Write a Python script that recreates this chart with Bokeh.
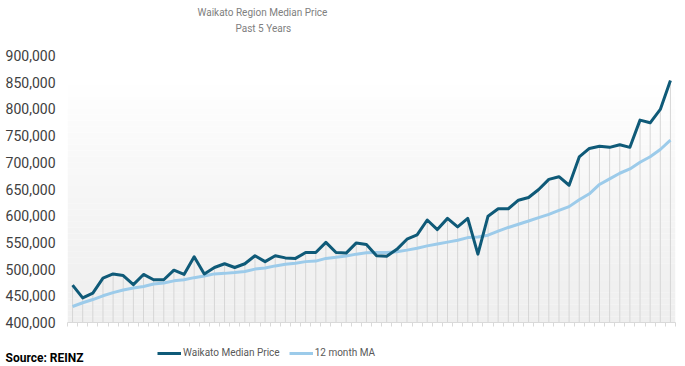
import numpy as np
from bokeh.plotting import figure
from bokeh.models import (ColumnDataSource, Legend, LegendItem, Label, FixedTicker,
                          NumeralTickFormatter, Range1d, Title)
from bokeh.embed import file_html
from bokeh.resources import INLINE

# ---- data ----
median_price = [470000, 446000, 455000, 483000, 491000, 488000, 471000, 490000, 480000, 480000,
                498000, 490000, 523000, 491000, 503000, 510000, 503000, 510000, 525000, 514000,
                525000, 521000, 520000, 531000, 531000, 550000, 531000, 530000, 549000, 546000,
                525000, 524000, 537000, 556000, 564000, 592000, 574000, 595000, 579000, 595000,
                528000, 599000, 613000, 613000, 629000, 634000, 649000, 668000, 673000, 657000,
                710000, 726000, 730000, 728000, 733000, 728000, 779000, 774000, 799000, 853000]
ma_12 = [430000, 437000, 443000, 450000, 456000, 461000, 464500, 467500, 472000, 474000,
         478000, 480000, 484000, 487000, 491000, 492000, 493500, 495500, 500000, 502000,
         506000, 509000, 511000, 514000, 515000, 520000, 522000, 524500, 528000, 530500,
         531000, 531000, 532500, 535500, 539000, 543500, 547000, 550500, 554000, 559000,
         560000, 563500, 571000, 578000, 584000, 590000, 596500, 602500, 610000, 617000,
         630000, 641000, 658500, 669000, 679500, 687500, 700000, 710500, 724000, 741500]
y_ticks = [400000, 450000, 500000, 550000, 600000, 650000, 700000, 750000, 800000, 850000, 900000]
series_names = ["Waikato Median Price", "12 month MA"]
title_text = "Waikato Region Median Price"
subtitle_text = "Past 5 Years"
source_text = "Source: REINZ"

DARK = "#0f5a78"
LIGHT = "#9ccbea"
W, MAIN_H, FOOT_H = 685, 330, 36

n = len(median_price)
x = list(range(n))
y_min, y_max = y_ticks[0], y_ticks[-1]

src = ColumnDataSource(dict(x=x, price=median_price, ma=ma_12, base=[y_min] * n))

p = figure(width=W, height=MAIN_H, output_backend="svg", toolbar_location=None, title=None,
           x_range=Range1d(-0.5, n - 0.5), y_range=Range1d(y_min, y_max),
           min_border_left=67, min_border_right=10, min_border_top=55, min_border_bottom=8)
p.outline_line_color = None
p.background_fill_color = "white"
p.border_fill_color = "white"

# titles (spacer nearest the frame, then subtitle, then title)
p.add_layout(Title(text=" ", text_font_size="1px", standoff=19), "above")
p.add_layout(Title(text=subtitle_text, align="left", offset=168, text_font="Roboto",
                   text_font_size="10px", text_font_style="normal", text_color="#808080",
                   standoff=0), "above")
p.add_layout(Title(text=title_text, align="left", offset=130, text_font="Roboto",
                   text_font_size="10px", text_font_style="normal", text_color="#808080",
                   standoff=5), "above")

# background gradient bands
nb = 45
edges = np.linspace(y_min, y_max, nb + 1)
cols = []
for i in range(nb):
    t = (edges[i] - y_min) / (y_max - y_min)
    g = int(round(239 + 16 * min(1.0, (t / 0.9) ** 1.3)))
    cols.append("#%02x%02x%02x" % (g, g, g))
p.quad(left=-0.5, right=n - 0.5, bottom=edges[:-1], top=edges[1:], fill_color=cols, line_color=None)

# drop lines
p.segment(x0="x", y0="base", x1="x", y1="price", source=src, line_color="#d6d6d6", line_width=1)

p.line("x", "ma", source=src, line_color=LIGHT, line_width=3)
p.line("x", "price", source=src, line_color=DARK, line_width=3, line_join="round")

# axes
p.xgrid.visible = False
p.ygrid.visible = False
x_tick_pos = [i - 0.5 for i in range(n + 1)]
p.xaxis.ticker = FixedTicker(ticks=x_tick_pos)
p.xaxis.major_label_overrides = {t: "" for t in x_tick_pos}
p.xaxis.major_label_text_font_size = "1px"
p.xaxis.major_label_standoff = 0
p.xaxis.axis_line_color = "#d9d9d9"
p.xaxis.major_tick_line_color = "#d9d9d9"
p.xaxis.major_tick_out = 4
p.xaxis.major_tick_in = 0
p.xaxis.minor_tick_line_color = None

p.yaxis.ticker = FixedTicker(ticks=y_ticks)
p.yaxis.formatter = NumeralTickFormatter(format="0,0")
p.yaxis.axis_line_color = None
p.yaxis.major_tick_line_color = None
p.yaxis.minor_tick_line_color = None
p.yaxis.major_label_text_font = "Roboto"
p.yaxis.major_label_text_font_size = "14px"
p.yaxis.major_label_text_color = "#404040"
p.yaxis.major_label_standoff = 6

# ---- footer (separate root): legend + source note ----
f = figure(width=W, height=FOOT_H, output_backend="svg", toolbar_location=None,
           x_axis_location=None, y_axis_location=None,
           x_range=Range1d(0, W), y_range=Range1d(FOOT_H, 0),
           min_border=0, min_border_left=0, min_border_right=0,
           min_border_top=0, min_border_bottom=0)
f.grid.visible = False
f.outline_line_color = None
f.background_fill_color = "white"
f.border_fill_color = "white"
# legend glyph carriers: the same series, which fall outside this strip's range
lr_price = f.line(x=x, y=median_price, line_color=DARK, line_width=3)
lr_ma = f.line(x=x, y=ma_12, line_color=LIGHT, line_width=3)

legend = Legend(items=[LegendItem(label=series_names[0], renderers=[lr_price]),
                       LegendItem(label=series_names[1], renderers=[lr_ma])],
                orientation="horizontal", location=(157, 8), border_line_color=None,
                background_fill_alpha=0, label_text_font="Roboto", label_text_font_size="10px",
                label_text_color="#595959", glyph_width=24, glyph_height=10, label_standoff=2,
                spacing=9, padding=0, margin=0)
f.add_layout(legend, "center")

f.add_layout(Label(x=5, y=27.5, text=source_text, text_font="Roboto", text_font_size="12px",
                   text_font_style="bold", text_color="#000000", text_baseline="alphabetic"))

open("out.html", "w").write(file_html([p, f], INLINE))
